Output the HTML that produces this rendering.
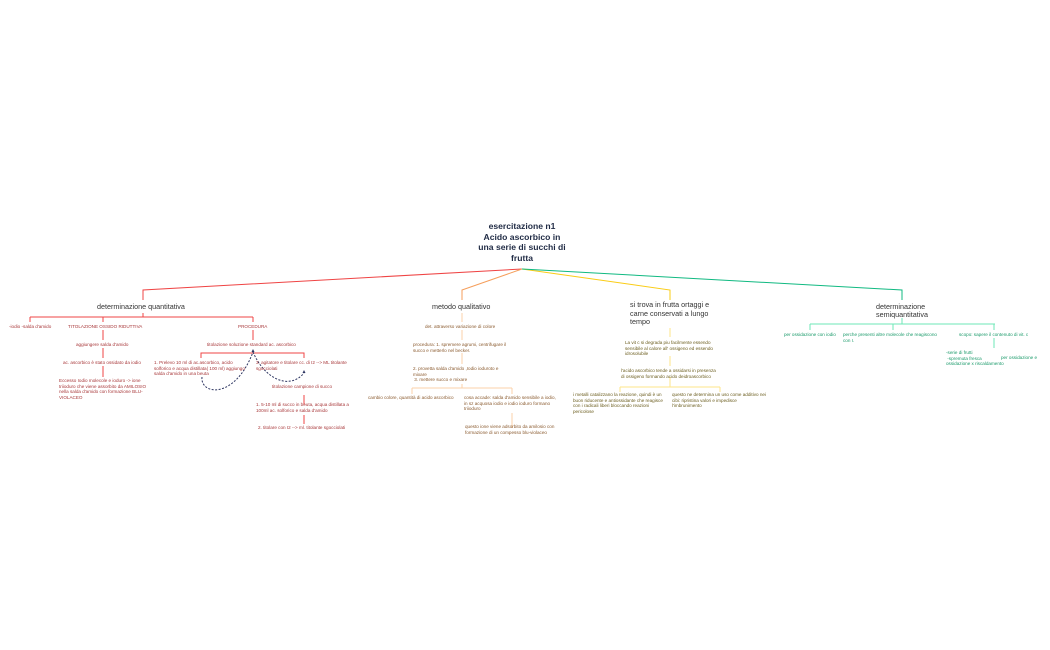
<!DOCTYPE html>
<html><head><meta charset="utf-8"><style>
body{margin:0;width:1050px;height:650px;background:#fff;position:relative;overflow:hidden;font-family:"Liberation Sans",sans-serif}
.t{position:absolute;font-size:4.6px;line-height:5.6px;white-space:nowrap}
.r{color:#a8383a}.o{color:#8a5a2e}.y{color:#6b5d1e}.g{color:#1a9a6a}
.h{position:absolute;font-size:7.2px;line-height:9px;color:#333;font-weight:normal;white-space:nowrap}
</style></head><body>
<svg width="1050" height="650" style="position:absolute;left:0;top:0" fill="none" stroke-width="1">
<g stroke="#ef4444"><path d="M522 269 L143 290 L143 300"/><path d="M143 313 V317 M30 317 H253 M30 317 V322 M103 317 V322 M253 317 V322"/>
<path d="M103 330 V340 M103 348 V358 M103 366 V377 M253 330 V340 M201 358 V353 H304 V358 M304 395 V405 M304 415 V424"/></g>
<g stroke="#f59e5b"><path d="M522 269 L462 290 L462 300"/></g>
<g stroke="#fbd0a8"><path d="M462 313 V322 M462 330 V340 M462 353 V364 M462 384 V388 M412 388 H512 M412 388 V394 M512 388 V394 M512 413 V428"/></g>
<g stroke="#facc15"><path d="M522 269 L670 290 V300"/></g>
<g stroke="#fde68a"><path d="M670 328 V337 M670 356 V366 M670 377 V387 M620 387 H720 M620 387 V392 M720 387 V392"/></g>
<g stroke="#10b981"><path d="M522 269 L902 290 V300"/></g>
<g stroke="#6ee7b7"><path d="M902 318 V324 M810 324 H995 M810 324 V330 M893 324 V330 M994 324 V330 M994 338 V348"/></g>
<g stroke="#2d3561" stroke-dasharray="2 1.5"><path d="M202 377 C200 395 235 400 253 352"/><path d="M253 352 C265 380 290 390 304 373"/></g>
<path d="M253 349 l-1.5 3 h3z M304 370 l-1.5 3 h3z" fill="#2d3561" stroke="none"/>
</svg>
<div class="h" style="left:470px;top:221px;width:104px;text-align:center;font-size:8.6px;line-height:10.6px;color:#1f2a44;font-weight:bold">esercitazione n1<br>Acido ascorbico in<br>una serie di succhi di<br>frutta</div>
<div class="h" style="left:97px;top:302px">determinazione quantitativa</div>
<div class="h" style="left:432px;top:302px">metodo qualitativo</div>
<div class="h" style="left:630px;top:301px;line-height:8.5px">si trova in frutta ortaggi e<br>carne conservati a lungo<br>tempo</div>
<div class="h" style="left:876px;top:303px;line-height:8px">determinazione<br>semiquantitativa</div>

<div class="t r" style="left:9px;top:324px">-iodio -salda d'amido</div>
<div class="t r" style="left:68px;top:324px">TITOLAZIONE OSSIDO RIDUTTIVA</div>
<div class="t r" style="left:238px;top:324px">PROCEDURA</div>
<div class="t r" style="left:76px;top:342px">aggiungere salda d'amido</div>
<div class="t r" style="left:63px;top:360px">ac. ascorbico è stato ossidato da iodio</div>
<div class="t r" style="left:59px;top:378px">Eccesso Iodio molecole e ioduro -&gt; ione<br>triioduro che viene assorbito da AMILOSIO<br>nella salda d'amido con formazione BLU-<br>VIOLACEO</div>
<div class="t r" style="left:207px;top:342px">titolazione soluzione standard ac. ascorbico</div>
<div class="t r" style="left:154px;top:360px">1. Prelevo 10 ml di ac.ascorbico, acido<br>solforico e acqua distillata( 100 ml) aggiungo<br>salda d'amido in una beuta</div>
<div class="t r" style="left:256px;top:360px">3. agitatore e titolare cc. di I2 --&gt; ML titolante<br>sgocciolati</div>
<div class="t r" style="left:272px;top:384px">titolazione campione di succo</div>
<div class="t r" style="left:256px;top:402px">1. 5-10 ml di succo in beuta, acqua distillata a<br>100ml ac. solforico e salda d'amido</div>
<div class="t r" style="left:258px;top:425px">2. titolare con I2 --&gt; ml. titolante sgocciolati</div>

<div class="t o" style="left:425px;top:324px">det. attraverso variazione di colore</div>
<div class="t o" style="left:413px;top:342px">procedura: 1. spremere agrumi, centrifugare il<br>succo e metterlo nel becker.</div>
<div class="t o" style="left:413px;top:366px">2. provetta salda d'amido ,Iodio ioduroto e<br>mixare<br>&nbsp;3. mettere succo e mixare</div>
<div class="t o" style="left:368px;top:395px">cambio colore, quantità di acido ascorbico</div>
<div class="t o" style="left:464px;top:395px">cosa accade: salda d'amido sensibile a iodio,<br>in sz acquosa iodio e iodio ioduro formano<br>triioduro</div>
<div class="t o" style="left:465px;top:424px">questo ione viene adsorbito da amilosio con<br>formazione di un compesso blu-violaceo</div>

<div class="t y" style="left:625px;top:340px">La vit c si degrada piu facilmente essendo<br>sensibile al calore all' ossigeno ed essendo<br>idrosolubile</div>
<div class="t y" style="left:621px;top:368px">l'acido ascorbico tende a ossidarsi in presenza<br>di ossigeno formando acido deidroascorbico</div>
<div class="t y" style="left:573px;top:392px">i metalli catalizzano la reazione, quindi è un<br>buon riducente e antiossidante che reagisce<br>con i radicali liberi bloccando reazioni<br>pericolose</div>
<div class="t y" style="left:672px;top:392px">questo ne determina un uso come additivo nei<br>cibi: ripristina valori e impedisce<br>l'imbrunimento</div>

<div class="t g" style="left:784px;top:332px">per ossidazione con iodio</div>
<div class="t g" style="left:843px;top:332px">perche presenti altre molecole che reagiscono<br>con I.</div>
<div class="t g" style="left:959px;top:332px">scopo: sapere il contenuto di vit. c</div>
<div class="t g" style="left:946px;top:350px">-serie di frutti<br>&nbsp;-spremuta fresca<br>ossidazione x riscaldamento</div>
<div class="t g" style="left:1001px;top:355px">per ossidazione e</div>
</body></html>
